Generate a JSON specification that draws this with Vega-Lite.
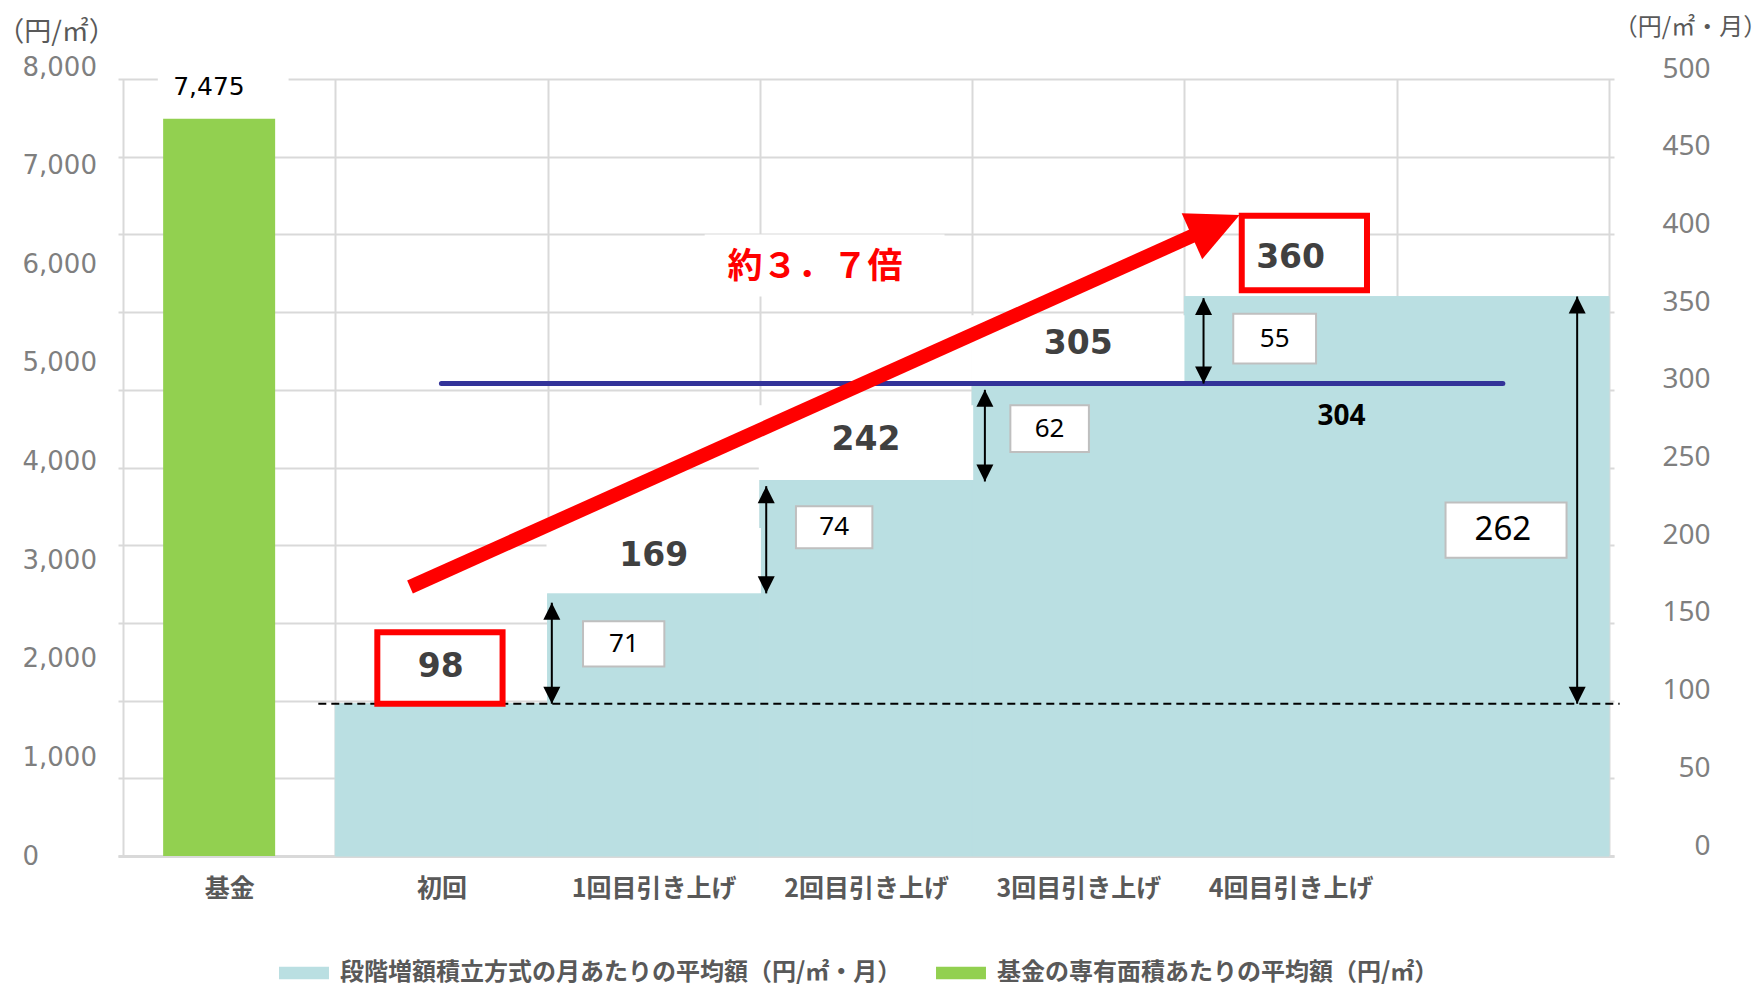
{
  "$schema": "https://vega.github.io/schema/vega-lite/v6.json",
  "width": 1496,
  "height": 777,
  "autosize": {"type": "none"},
  "padding": {"left": 118, "top": 79, "right": 150, "bottom": 138},
  "background": "white",
  "config": {"view": {"stroke": null}, "font": "Noto Sans CJK JP"},
  "datasets": {
    "fund": [{"x": 0.5, "v": 7475, "series": "基金の専有面積あたりの平均額（円/㎡）"}],
    "fundBox": [{"x": 0.164, "x2": 0.78, "v": 7600, "v2": 8020}],
    "fundLabel": [{"x": 0.405, "v": 7797, "label": "7,475"}],
    "steps": [
      {"x": 1, "x2": 2, "v": 98, "series": "段階増額積立方式の月あたりの平均額（円/㎡・月）"},
      {"x": 2, "x2": 3, "v": 169, "series": "段階増額積立方式の月あたりの平均額（円/㎡・月）"},
      {"x": 3, "x2": 4, "v": 242, "series": "段階増額積立方式の月あたりの平均額（円/㎡・月）"},
      {"x": 4, "x2": 5, "v": 305, "series": "段階増額積立方式の月あたりの平均額（円/㎡・月）"},
      {"x": 5, "x2": 7, "v": 360, "series": "段階増額積立方式の月あたりの平均額（円/㎡・月）"}
    ],
    "coverBoxes": [
      {"x": 1.995, "x2": 3.005, "v": 169, "v2": 211},
      {"x": 2.995, "x2": 4.005, "v": 242, "v2": 290},
      {"x": 3.995, "x2": 5, "v": 305, "v2": 348},
      {"x": 2.74, "x2": 3.87, "v": 360, "v2": 400}
    ],
    "baseLine": [{"x": 0.92, "x2": 7.05, "v": 98}],
    "avgLine": [{"x": 1.5, "x2": 6.5, "v": 304}],
    "arrows": [
      {"x": 2.02, "v": 98, "v2": 163},
      {"x": 3.03, "v": 169, "v2": 238},
      {"x": 4.06, "v": 241, "v2": 300},
      {"x": 5.09, "v": 304, "v2": 359},
      {"x": 6.85, "v": 98, "v2": 360}
    ],
    "valueBoxes": [
      {"x": 2.167, "x2": 2.55, "v": 122, "v2": 151},
      {"x": 3.17, "x2": 3.53, "v": 198, "v2": 225},
      {"x": 4.18, "x2": 4.55, "v": 260, "v2": 290},
      {"x": 5.23, "x2": 5.62, "v": 317, "v2": 349},
      {"x": 6.23, "x2": 6.8, "v": 192, "v2": 227.5}
    ],
    "redBoxes": [
      {"x": 1.198, "x2": 1.788, "v": 98, "v2": 144},
      {"x": 5.27, "x2": 5.86, "v": 364, "v2": 412}
    ],
    "valueLabels": [
      {"x": 2.36, "v": 136.5, "label": "71"},
      {"x": 3.35, "v": 211.5, "label": "74"},
      {"x": 4.365, "v": 275, "label": "62"},
      {"x": 5.425, "v": 333, "label": "55"}
    ],
    "totalLabel": [{"x": 6.5, "v": 209.5, "label": "262"}],
    "bigLabels": [
      {"x": 1.497, "v": 121.6, "label": "98"},
      {"x": 2.5, "v": 193, "label": "169"},
      {"x": 3.5, "v": 267.7, "label": "242"},
      {"x": 4.5, "v": 329.5, "label": "305"},
      {"x": 5.5, "v": 385, "label": "360"}
    ],
    "avgLabel": [{"x": 5.74, "v": 282.5, "label": "304"}],
    "ratioLabel": [{"x": 3.26, "v": 379, "label": "約３．７倍"}],
    "redArrow": [{"x": 1.352, "v": 173.1, "x2": 5.063, "v2": 400.6}],
    "redHead": [{"x": 5.26, "v": 412.5}]
  },
  "encoding": {
    "x": {
      "field": "x", "type": "quantitative", "scale": {"domain": [0, 7], "nice": false, "zero": false},
      "axis": {
        "values": [0, 0.5, 1, 1.5, 2, 2.5, 3, 3.5, 4, 4.5, 5, 5.5, 6, 6.5, 7],
        "labelExpr": "datum.value === 0.5 ? '基金' : datum.value === 1.5 ? '初回' : datum.value === 2.5 ? '1回目引き上げ' : datum.value === 3.5 ? '2回目引き上げ' : datum.value === 4.5 ? '3回目引き上げ' : datum.value === 5.5 ? '4回目引き上げ' : ''",
        "labelFlush": false, "labelOverlap": false, "labelBound": false, "ticks": false,
        "domain": true, "domainColor": "#d9d9d9", "domainWidth": 3,
        "grid": true, "gridColor": "#d9d9d9", "gridWidth": 2,
        "gridOpacity": {"condition": {"test": "datum.value % 1 !== 0", "value": 0}, "value": 1},
        "labelFont": "Noto Sans CJK JP", "labelFontSize": 25, "labelFontWeight": "bold", "labelColor": "#595959",
        "labelPadding": 20, "labelBaseline": "top", "title": null
      }
    }
  },
  "resolve": {"scale": {"y": "independent"}},
  "layer": [
    {
      "encoding": {
        "y": {
          "field": "v", "type": "quantitative", "scale": {"domain": [0, 500], "nice": false, "zero": true},
          "axis": {
            "orient": "right", "values": [0, 50, 100, 150, 200, 250, 300, 350, 400, 450, 500],
            "title": "（円/㎡・月）", "titleAngle": 0, "titleX": 76, "titleY": -52, "titleAlign": "center", "titleBaseline": "middle",
            "titleFont": "Noto Sans CJK JP", "titleFontSize": 24, "titleFontWeight": "normal", "titleColor": "#595959",
            "labelFont": "Noto Sans", "labelFontSize": 28, "labelColor": "#7f7f7f", "labelPadding": 96, "labelAlign": "right", "labelOffset": -10,
            "ticks": false, "domain": false, "grid": true, "gridColor": "#d9d9d9", "gridWidth": 2
          }
        }
      },
      "layer": [
        {
          "data": {"name": "steps"},
          "mark": {"type": "rect", "stroke": "#badfe2", "strokeWidth": 1},
          "encoding": {
            "x2": {"field": "x2"}, "y2": {"datum": 0},
            "color": {
              "field": "series", "type": "nominal",
              "scale": {"domain": ["段階増額積立方式の月あたりの平均額（円/㎡・月）", "基金の専有面積あたりの平均額（円/㎡）"], "range": ["#badfe2", "#92d050"]},
              "legend": {
                "orient": "none", "legendX": 174, "legendY": 882, "direction": "horizontal", "title": null,
                "symbolType": "M-4,-1H4V1H-4Z", "symbolSize": 156, "symbolStrokeWidth": 0,
                "labelFont": "Noto Sans CJK JP", "labelFontSize": 24, "labelFontWeight": "bold", "labelColor": "#595959",
                "labelOffset": 24, "columnPadding": 34, "padding": 0, "labelLimit": 1000
              }
            }
          }
        },
        {
          "data": {"name": "coverBoxes"},
          "mark": {"type": "rect", "fill": "white"},
          "encoding": {"x2": {"field": "x2"}, "y2": {"field": "v2"}}
        },
        {
          "data": {"name": "baseLine"},
          "mark": {"type": "rule", "color": "black", "strokeWidth": 2, "strokeDash": [8, 5]},
          "encoding": {"x2": {"field": "x2"}}
        },
        {
          "data": {"name": "avgLine"},
          "mark": {"type": "rule", "color": "#333399", "strokeWidth": 5, "strokeCap": "round"},
          "encoding": {"x2": {"field": "x2"}}
        },
        {
          "data": {"name": "arrows"},
          "mark": {"type": "rule", "color": "black", "strokeWidth": 2},
          "encoding": {"y2": {"field": "v2"}}
        },
        {
          "data": {"name": "arrows"},
          "transform": [{"fold": ["v", "v2"], "as": ["end", "pos"]}],
          "mark": {"type": "point", "filled": true, "color": "black", "size": 1156, "opacity": 1, "strokeWidth": 0},
          "encoding": {
            "y": {"field": "pos", "type": "quantitative", "scale": {"domain": [0, 500], "nice": false, "zero": true}},
            "shape": {"field": "end", "type": "nominal", "scale": {"domain": ["v", "v2"], "range": ["M0,0L-0.5,-1L0.5,-1Z", "M0,0L-0.5,1L0.5,1Z"]}, "legend": null}
          }
        },
        {
          "data": {"name": "valueBoxes"},
          "mark": {"type": "rect", "fill": "white", "stroke": "#bfbfbf", "strokeWidth": 2},
          "encoding": {"x2": {"field": "x2"}, "y2": {"field": "v2"}}
        },
        {
          "data": {"name": "redBoxes"},
          "mark": {"type": "rect", "fill": "white", "stroke": "#ff0000", "strokeWidth": 6},
          "encoding": {"x2": {"field": "x2"}, "y2": {"field": "v2"}}
        },
        {
          "data": {"name": "valueLabels"},
          "mark": {"type": "text", "font": "Noto Sans", "fontSize": 26, "color": "black", "baseline": "middle", "align": "center"},
          "encoding": {"text": {"field": "label", "type": "nominal"}}
        },
        {
          "data": {"name": "totalLabel"},
          "mark": {"type": "text", "font": "Noto Sans", "fontSize": 33, "color": "black", "baseline": "middle", "align": "center"},
          "encoding": {"text": {"field": "label", "type": "nominal"}}
        },
        {
          "data": {"name": "bigLabels"},
          "mark": {"type": "text", "font": "DejaVu Sans", "fontSize": 33, "fontWeight": "bold", "color": "#404040", "baseline": "middle", "align": "center"},
          "encoding": {"text": {"field": "label", "type": "nominal"}}
        },
        {
          "data": {"name": "avgLabel"},
          "mark": {"type": "text", "font": "Noto Sans", "fontSize": 28, "fontWeight": "bold", "color": "black", "baseline": "middle", "align": "center"},
          "encoding": {"text": {"field": "label", "type": "nominal"}}
        },
        {
          "data": {"name": "ratioLabel"},
          "mark": {"type": "text", "font": "Noto Sans CJK JP", "fontSize": 35, "fontWeight": "bold", "color": "#ff0000", "baseline": "middle", "align": "center"},
          "encoding": {"text": {"field": "label", "type": "nominal"}}
        },
        {
          "data": {"name": "redArrow"},
          "mark": {"type": "rule", "color": "#ff0000", "strokeWidth": 14, "strokeCap": "butt"},
          "encoding": {"x2": {"field": "x2"}, "y2": {"field": "v2"}}
        },
        {
          "data": {"name": "redHead"},
          "mark": {"type": "point", "filled": true, "color": "#ff0000", "opacity": 1, "strokeWidth": 0, "size": 5184, "angle": 336, "shape": "M0,0L-1.45,-0.7L-1.45,0.7Z"},
          "encoding": {}
        }
      ]
    },
    {
      "encoding": {
        "y": {
          "field": "v", "type": "quantitative",
          "scale": {"domain": [0, 8000], "nice": false, "zero": true, "range": [777, -12]},
          "axis": {
            "orient": "left", "values": [0, 1000, 2000, 3000, 4000, 5000, 6000, 7000, 8000], "format": ",d",
            "title": "（円/㎡）", "titleAngle": 0, "titleX": -62, "titleY": -47, "titleAlign": "center", "titleBaseline": "middle",
            "titleFont": "Noto Sans CJK JP", "titleFontSize": 27, "titleFontWeight": "normal", "titleColor": "#595959",
            "labelFont": "DejaVu Sans", "labelFontSize": 26, "labelColor": "#7f7f7f", "labelPadding": 96, "labelAlign": "left",
            "ticks": false, "domain": false, "grid": false
          }
        }
      },
      "layer": [
        {
          "data": {"name": "fund"},
          "mark": {"type": "bar", "orient": "vertical", "width": 112, "xOffset": -10},
          "encoding": {
            "color": {
              "field": "series", "type": "nominal",
              "scale": {"domain": ["段階増額積立方式の月あたりの平均額（円/㎡・月）", "基金の専有面積あたりの平均額（円/㎡）"], "range": ["#badfe2", "#92d050"]},
              "legend": {
                "orient": "none", "legendX": 174, "legendY": 882, "direction": "horizontal", "title": null,
                "symbolType": "M-4,-1H4V1H-4Z", "symbolSize": 156, "symbolStrokeWidth": 0,
                "labelFont": "Noto Sans CJK JP", "labelFontSize": 24, "labelFontWeight": "bold", "labelColor": "#595959",
                "labelOffset": 24, "columnPadding": 34, "padding": 0, "labelLimit": 1000
              }
            }
          }
        },
        {
          "data": {"name": "fundBox"},
          "mark": {"type": "rect", "fill": "white"},
          "encoding": {"x2": {"field": "x2"}, "y2": {"field": "v2"}}
        },
        {
          "data": {"name": "fundLabel"},
          "mark": {"type": "text", "font": "DejaVu Sans", "fontSize": 25, "color": "black", "baseline": "middle", "align": "center"},
          "encoding": {"text": {"field": "label", "type": "nominal"}}
        }
      ]
    }
  ]
}
